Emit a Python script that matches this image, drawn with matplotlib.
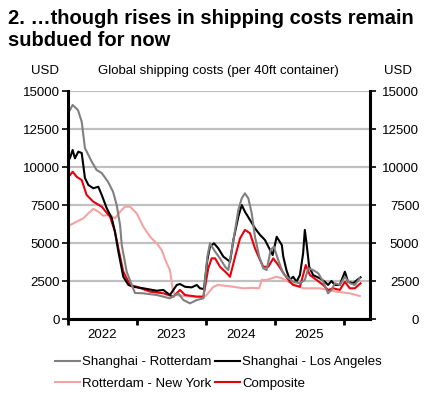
import pandas as pd
import matplotlib.pyplot as plt
import matplotlib.dates as mdates
import matplotlib.transforms as mtransforms

plt.rcParams['font.family'] = ['Liberation Sans', 'DejaVu Sans']

# Values (USD per 40ft container)
sh_rot_dates = ['2022-01-10', '2022-01-24', '2022-02-21', '2022-03-13', '2022-03-30', '2022-05-05',
                '2022-05-31', '2022-06-27', '2022-07-30', '2022-08-26', '2022-09-14', '2022-10-02',
                '2022-10-11', '2022-11-06', '2022-12-03', '2022-12-20', '2023-02-02', '2023-04-14',
                '2023-06-23', '2023-08-06', '2023-09-02', '2023-10-07', '2023-11-12', '2023-12-17',
                '2024-01-07', '2024-01-21', '2024-02-17', '2024-03-14', '2024-04-10', '2024-04-27',
                '2024-05-15', '2024-06-02', '2024-06-19', '2024-07-07', '2024-07-24', '2024-08-11',
                '2024-08-29', '2024-09-15', '2024-10-08', '2024-10-29', '2024-11-16', '2024-12-07',
                '2024-12-24', '2025-01-16', '2025-02-11', '2025-03-01', '2025-04-05', '2025-05-11',
                '2025-06-06', '2025-06-24', '2025-07-20', '2025-08-16', '2025-09-11', '2025-10-07',
                '2025-10-25', '2025-11-12', '2025-12-08', '2026-01-04', '2026-01-30', '2026-02-26',
                '2026-03-24']
sh_rot = [13750, 14080, 13750, 12980, 11250, 10350, 9800, 9600, 9030, 8370, 7500, 6180,
          4870, 3110, 2240, 1710, 1690, 1580, 1360, 1690, 1250, 1030, 1250, 1360,
          4100, 4980, 4430, 3990, 3440, 3220, 4540, 5860, 7170, 7940, 8270, 7940,
          6950, 5410, 4100, 3340, 3220, 4540, 4760, 3880, 3010, 2780, 2450, 2350,
          2570, 3340, 3220, 3010, 2450, 1690, 1910, 2350, 2240, 2780, 2350, 2240, 2680]

sh_la_dates = ['2022-01-10', '2022-01-24', '2022-02-05', '2022-02-23', '2022-03-13', '2022-03-30',
               '2022-04-17', '2022-05-13', '2022-06-09', '2022-06-27', '2022-07-23', '2022-08-19',
               '2022-09-05', '2022-09-23', '2022-10-19', '2022-11-15', '2022-12-11', '2023-02-02',
               '2023-04-14', '2023-05-19', '2023-06-23', '2023-07-29', '2023-08-15', '2023-09-11',
               '2023-10-16', '2023-11-12', '2023-11-29', '2023-12-20', '2024-01-07', '2024-01-21',
               '2024-02-11', '2024-03-05', '2024-04-01', '2024-05-06', '2024-05-24', '2024-06-19',
               '2024-07-07', '2024-07-24', '2024-08-20', '2024-09-15', '2024-10-12', '2024-11-07',
               '2024-12-04', '2024-12-18', '2025-01-08', '2025-02-04', '2025-02-12', '2025-03-01',
               '2025-03-19', '2025-04-05', '2025-04-23', '2025-05-11', '2025-05-28', '2025-06-06',
               '2025-06-15', '2025-06-29', '2025-07-20', '2025-08-24', '2025-09-20', '2025-10-07',
               '2025-10-25', '2025-11-12', '2025-12-08', '2026-01-04', '2026-01-21', '2026-02-17',
               '2026-03-10', '2026-03-28']
sh_la = [10590, 11120, 10570, 11010, 10920, 9280, 8820, 8600, 8700, 8160, 7300, 6640,
         5740, 4430, 2780, 2240, 2120, 2020, 1860, 1910, 1580, 2240, 2300, 2120,
         2080, 2240, 2020, 1970, 3880, 4760, 4980, 4650, 4100, 3770, 5200, 6730,
         7500, 7060, 6510, 5970, 5530, 5200, 4540, 4210, 5410, 4870, 4100, 3200,
         2570, 2780, 2450, 2890, 4320, 5860, 4980, 3440, 2890, 2680, 2450, 2240,
         2500, 2240, 2240, 3110, 2450, 2350, 2570, 2740]

rot_ny_dates = ['2022-01-10', '2022-02-14', '2022-03-21', '2022-04-17', '2022-05-13', '2022-06-09',
                '2022-07-05', '2022-08-10', '2022-09-05', '2022-10-02', '2022-10-28', '2022-11-24',
                '2022-12-29', '2023-02-02', '2023-03-10', '2023-04-14', '2023-05-10', '2023-06-06',
                '2023-06-23', '2023-07-08', '2023-07-20', '2023-09-11', '2023-11-12', '2023-12-20',
                '2024-01-03', '2024-02-08', '2024-03-05', '2024-05-24', '2024-07-15', '2024-08-29',
                '2024-10-07', '2024-10-21', '2024-11-16', '2025-01-08', '2025-02-04', '2025-03-11',
                '2025-05-28', '2025-08-24', '2025-11-21', '2026-01-30', '2026-03-24']
rot_ny = [6180, 6400, 6620, 6950, 7240, 7060, 6800, 6840, 6620, 7060, 7390, 7390,
          6950, 6070, 5410, 4980, 4540, 3660, 3220, 1910, 1580, 1510, 1470, 1450,
          1580, 2120, 2240, 2120, 2020, 2050, 2020, 2570, 2570, 2780, 2680, 2450,
          2020, 2020, 1800, 1690, 1510]

comp_dates = ['2022-01-10', '2022-01-24', '2022-02-14', '2022-03-13', '2022-04-08', '2022-05-13',
              '2022-06-27', '2022-08-10', '2022-09-05', '2022-09-23', '2022-10-19', '2022-11-24',
              '2022-12-29', '2023-03-10', '2023-05-19', '2023-07-11', '2023-08-15', '2023-09-11',
              '2023-11-12', '2023-12-17', '2024-01-12', '2024-01-30', '2024-02-17', '2024-03-14',
              '2024-04-19', '2024-05-06', '2024-06-02', '2024-06-28', '2024-07-24', '2024-08-20',
              '2024-09-15', '2024-10-12', '2024-10-29', '2024-11-25', '2024-12-21', '2025-01-16',
              '2025-02-20', '2025-03-19', '2025-04-05', '2025-05-11', '2025-05-28', '2025-06-11',
              '2025-07-03', '2025-08-07', '2025-09-11', '2025-10-07', '2025-11-03', '2025-12-08',
              '2026-01-04', '2026-01-30', '2026-02-26', '2026-03-28']
comp = [9470, 9690, 9360, 9140, 8160, 7720, 7390, 6730, 5740, 4650, 3110, 2240,
        2120, 1800, 1690, 1470, 1910, 1580, 1470, 1470, 3340, 3990, 3990, 3440,
        3010, 2780, 4100, 5300, 5860, 5640, 4650, 3880, 3440, 3440, 3990, 3550,
        2890, 2450, 2240, 2120, 2890, 3550, 2890, 2570, 2240, 1910, 2020, 1910,
        2450, 2020, 2020, 2350]

series = [
    ('Shanghai - Rotterdam', sh_rot_dates, sh_rot, '#808080'),
    ('Shanghai - Los Angeles', sh_la_dates, sh_la, '#000000'),
    ('Rotterdam - New York', rot_ny_dates, rot_ny, '#f4a3a3'),
    ('Composite', comp_dates, comp, '#e8000b'),
]
draw_order = [2, 3, 1, 0]

fig = plt.figure(figsize=(4.3, 3.97), dpi=100)
ax = fig.add_axes([68.3/430, 1-319/397, (370-68.3)/430, (319-91)/397])

handles = {}
for i in draw_order:
    name, d, v, c = series[i]
    ln, = ax.plot(pd.to_datetime(d), v, color=c, lw=1.5, label=name)
    handles[i] = ln

ax.set_ylim(0, 15000)
ax.set_yticks(range(0, 15001, 2500))
ax.set_xlim(pd.Timestamp('2022-01-01'), pd.Timestamp('2026-05-17'))
ax.grid(axis='y', color='#c0c0c0', lw=1.6)
ax.set_axisbelow(True)

for s in ['left', 'right', 'bottom']:
    ax.spines[s].set_linewidth(2.2)
ax.spines['top'].set_visible(False)

# year ticks at the boundaries, labels in the middle of each year
ax.xaxis.set_major_locator(mdates.YearLocator())
ax.xaxis.set_major_formatter(plt.NullFormatter())
ax.xaxis.set_minor_locator(mdates.MonthLocator(bymonth=7))
ax.xaxis.set_minor_formatter(mdates.DateFormatter('%Y'))
ax.tick_params(axis='x', which='major', length=4, width=2, direction='out')
ax.tick_params(axis='x', which='minor', length=0, pad=7, labelsize=9.5)
ax.tick_params(axis='y', length=4, width=1.2, direction='out', labelsize=9.5, pad=2,
               right=True, labelright=True)

# right-hand labels are right aligned near the figure edge
offset = mtransforms.ScaledTranslation(41/100, 0, fig.dpi_scale_trans)
for t in ax.yaxis.get_major_ticks():
    t.label2.set_horizontalalignment('right')
    t.label2.set_transform(t.label2.get_transform() + offset)

fig.text(8/430, 1-9/397, '2. \u2026though rises in shipping costs remain\nsubdued for now',
         fontsize=14.5, fontweight='bold', va='top', ha='left', linespacing=1.2)
fig.text(45/430, 1-71/397, 'USD', fontsize=9.5, ha='center', va='center')
fig.text(398/430, 1-71/397, 'USD', fontsize=9.5, ha='center', va='center')
fig.text(218/430, 1-71/397, 'Global shipping costs (per 40ft container)', fontsize=9.5,
         ha='center', va='center')

# legend filled row by row like the original
leg_order = [0, 2, 1, 3]
fig.legend([handles[i] for i in leg_order], [series[i][0] for i in leg_order], ncol=2,
           loc='upper left', bbox_to_anchor=(55/430, 1-356/397), frameon=False,
           fontsize=9.5, handlelength=1.9, handletextpad=0.15, columnspacing=0.3,
           labelspacing=0.7, borderpad=0, borderaxespad=0)

fig.savefig('out.png', dpi=100)
